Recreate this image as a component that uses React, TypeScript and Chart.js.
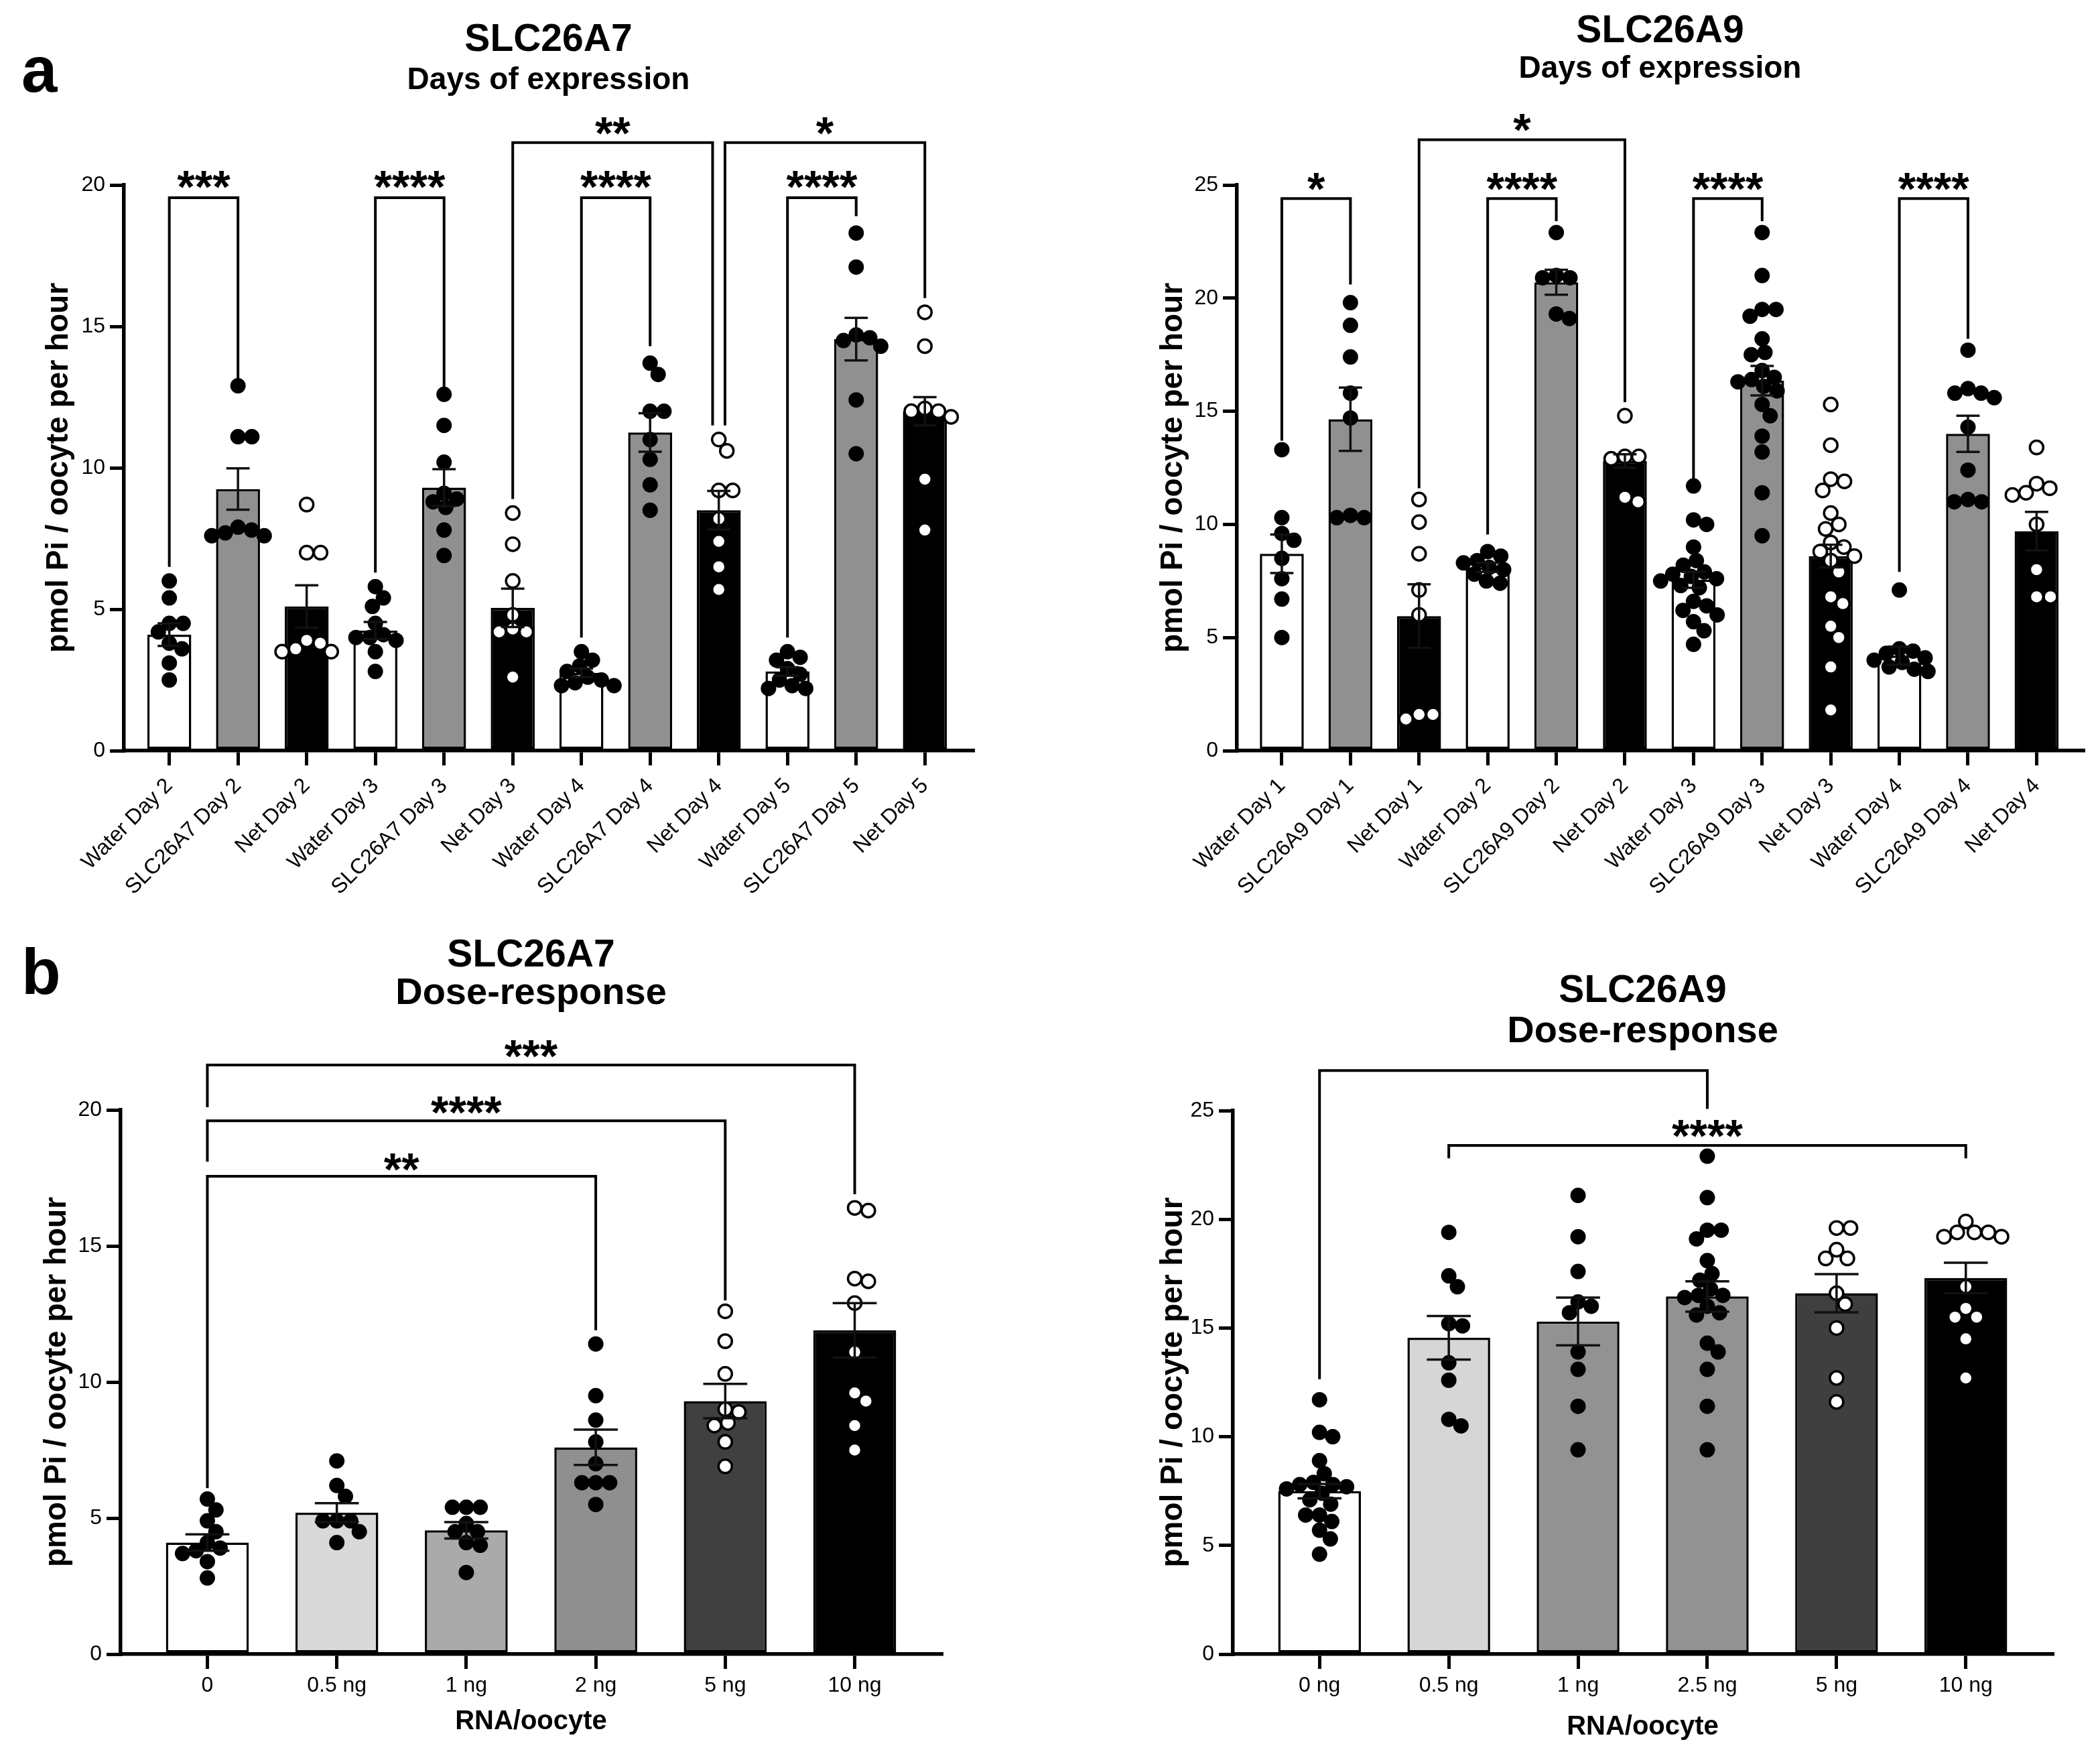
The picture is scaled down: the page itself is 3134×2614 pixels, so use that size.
import { useEffect, useRef } from 'react'
import { Chart, registerables } from 'chart.js'

Chart.register(...registerables)
Chart.defaults.font.family = "'Liberation Sans', Arial, Helvetica, sans-serif"
Chart.defaults.color = '#000'

// [from, to, top, left leg end, right leg end, label, label y, dx from, dx to]
type Bracket = [number, number, number, number, number, string, number, number, number]

// ---------- SLC26A7, days of expression ----------
const a7DayLabels = [
  'Water Day 2', 'SLC26A7 Day 2', 'Net Day 2',
  'Water Day 3', 'SLC26A7 Day 3', 'Net Day 3',
  'Water Day 4', 'SLC26A7 Day 4', 'Net Day 4',
  'Water Day 5', 'SLC26A7 Day 5', 'Net Day 5',
]
const a7DayMeans = [4.1, 9.25, 5.1, 4.25, 9.3, 5.05, 2.75, 11.25, 8.5, 2.8, 14.55, 12.0]
const a7DaySem = [0.4, 0.73, 0.75, 0.3, 0.65, 0.68, 0.15, 0.68, 0.68, 0.15, 0.75, 0.5]
const a7DayPoints = [
  [6.0, 5.4, 4.5, 4.5, 4.2, 3.8, 3.6, 3.1, 2.5],
  [12.9, 11.1, 11.1, 7.9, 7.8, 7.7, 7.6, 7.6],
  [8.7, 7.0, 7.0, 3.9, 3.8, 3.6, 3.5, 3.5],
  [5.8, 5.4, 5.1, 4.5, 4.1, 4.0, 4.0, 3.9, 3.5, 2.8],
  [12.6, 11.5, 10.2, 9.1, 8.9, 8.8, 8.6, 7.8, 6.9],
  [8.4, 7.3, 6.0, 4.8, 4.3, 4.2, 4.2, 2.6],
  [3.5, 3.2, 3.0, 2.8, 2.6, 2.5, 2.4, 2.3, 2.3],
  [13.7, 13.3, 12.0, 12.0, 11.0, 10.3, 9.4, 8.5],
  [11.0, 10.6, 9.2, 9.2, 8.2, 7.4, 6.5, 5.7],
  [3.5, 3.3, 3.2, 2.9, 2.7, 2.5, 2.3, 2.2, 2.2],
  [18.3, 17.1, 14.7, 14.6, 14.5, 14.3, 12.4, 10.5],
  [15.5, 14.3, 12.1, 12.0, 12.0, 11.8, 9.6, 7.8],
]
const a7DayBrackets: Bracket[] = [
  [0, 1, 19.55, 6.5, 13.05, '***', 20.3, 0, 0],
  [3, 4, 19.55, 6.3, 12.75, '****', 20.3, 0, 0],
  [6, 7, 19.55, 4.0, 14.3, '****', 20.3, 0, 0],
  [9, 10, 19.55, 4.0, 18.9, '****', 20.3, 0, 0],
  [5, 8, 21.5, 8.9, 11.5, '**', 22.2, 0, -0.09],
  [8, 11, 21.5, 11.5, 16.0, '*', 22.2, 0.09, 0],
]

// ---------- SLC26A9, days of expression ----------
const a9DayLabels = [
  'Water Day 1', 'SLC26A9 Day 1', 'Net Day 1',
  'Water Day 2', 'SLC26A9 Day 2', 'Net Day 2',
  'Water Day 3', 'SLC26A9 Day 3', 'Net Day 3',
  'Water Day 4', 'SLC26A9 Day 4', 'Net Day 4',
]
const a9DayMeans = [8.7, 14.65, 5.95, 8.1, 20.7, 12.8, 7.55, 16.35, 8.6, 4.2, 14.0, 9.7]
const a9DaySem = [0.85, 1.4, 1.4, 0.2, 0.55, 0.3, 0.35, 0.65, 0.5, 0.4, 0.8, 0.85]
const a9DayPoints = [
  [13.3, 10.3, 9.6, 9.3, 8.5, 7.6, 6.7, 5.0],
  [19.8, 18.8, 17.4, 15.8, 14.7, 10.4, 10.3, 10.3],
  [11.1, 10.1, 8.7, 7.1, 6.0, 1.6, 1.6, 1.4],
  [8.8, 8.6, 8.4, 8.3, 8.1, 8.0, 7.8, 7.5, 7.4],
  [22.9, 21.0, 20.9, 20.9, 19.3, 19.1],
  [14.8, 13.0, 13.0, 12.9, 11.2, 11.0],
  [11.7, 10.2, 10.0, 9.0, 8.4, 8.2, 7.9, 7.8, 7.7, 7.6, 7.5, 7.3, 7.2, 6.6, 6.4, 6.2, 6.0, 5.7, 5.3, 4.7],
  [22.9, 21.0, 19.5, 19.5, 19.2, 18.2, 17.6, 17.5, 16.8, 16.5, 16.4, 16.3, 16.1, 15.9, 15.3, 14.8, 13.9, 13.2, 11.4, 9.5],
  [15.3, 13.5, 12.0, 11.9, 11.5, 10.5, 10.0, 9.8, 9.2, 9.0, 8.8, 8.6, 8.4, 7.9, 6.8, 6.5, 5.5, 5.0, 3.7, 1.8],
  [7.1, 4.5, 4.4, 4.3, 4.1, 4.0, 3.9, 3.7, 3.6, 3.5],
  [17.7, 16.0, 15.8, 15.8, 15.6, 14.3, 12.4, 11.1, 11.0, 11.0],
  [13.4, 11.8, 11.6, 11.4, 11.3, 10.0, 8.0, 6.8, 6.8],
]
const a9DayBrackets: Bracket[] = [
  [0, 1, 24.4, 13.7, 20.6, '*', 25.3, 0, 0],
  [3, 4, 24.4, 9.55, 23.4, '****', 25.3, 0, 0],
  [6, 7, 24.4, 11.8, 23.4, '****', 25.3, 0, 0],
  [9, 10, 24.4, 7.9, 18.2, '****', 25.3, 0, 0],
  [2, 5, 27.0, 11.6, 15.4, '*', 27.9, 0, 0],
]

// ---------- SLC26A7, dose-response ----------
const a7DoseLabels = ['0', '0.5 ng', '1 ng', '2 ng', '5 ng', '10 ng']
const a7DoseMeans = [4.1, 5.2, 4.55, 7.6, 9.3, 11.9]
const a7DoseSem = [0.3, 0.35, 0.3, 0.65, 0.63, 1.0]
const a7DosePoints = [
  [5.7, 5.3, 4.9, 4.5, 4.1, 3.9, 3.8, 3.7, 3.4, 2.8],
  [7.1, 6.2, 5.8, 4.9, 4.9, 4.9, 4.5, 4.1],
  [5.4, 5.4, 5.4, 4.8, 4.5, 4.5, 4.1, 4.0, 3.0],
  [11.4, 9.5, 8.6, 7.8, 7.0, 6.3, 6.3, 6.3, 5.5],
  [12.6, 11.5, 10.3, 9.0, 8.9, 8.5, 8.4, 7.8, 6.9],
  [16.4, 16.3, 13.8, 13.7, 12.9, 11.1, 9.6, 9.3, 8.4, 7.5],
]
const a7DoseBrackets: Bracket[] = [
  [0, 5, 21.65, 20.1, 16.9, '***', 22.35, 0, 0],
  [0, 4, 19.6, 18.1, 13.0, '****', 20.3, 0, 0],
  [0, 3, 17.56, 6.1, 11.9, '**', 18.2, 0, 0],
]

// ---------- SLC26A9, dose-response ----------
const a9DoseLabels = ['0 ng', '0.5 ng', '1 ng', '2.5 ng', '5 ng', '10 ng']
const a9DoseMeans = [7.5, 14.55, 15.3, 16.45, 16.6, 17.3]
const a9DoseSem = [0.33, 1.0, 1.1, 0.7, 0.88, 0.7]
const a9DosePoints = [
  [11.7, 10.2, 10.0, 8.9, 8.3, 7.9, 7.8, 7.8, 7.7, 7.6, 7.4, 7.1, 6.9, 6.4, 6.4, 6.1, 5.7, 5.3, 4.6],
  [19.4, 17.4, 16.9, 15.2, 15.1, 13.4, 12.6, 10.8, 10.5],
  [21.1, 19.2, 17.6, 16.2, 16.0, 15.7, 13.9, 13.1, 11.4, 9.4],
  [22.9, 21.0, 19.5, 19.5, 19.1, 18.1, 17.5, 17.2, 16.8, 16.5, 16.5, 16.4, 16.0, 15.7, 15.6, 14.3, 13.9, 13.1, 11.4, 9.4],
  [19.6, 19.6, 18.6, 18.2, 18.2, 16.6, 16.1, 15.0, 12.7, 11.6],
  [19.9, 19.4, 19.4, 19.4, 19.2, 19.2, 16.9, 15.9, 15.5, 15.5, 14.5, 12.7],
]
const a9DoseBrackets: Bracket[] = [
  [0, 3, 26.84, 12.65, 25.08, '', 0, 0, 0],
  [1, 5, 23.4, 22.8, 22.8, '****', 24.3, 0, 0],
]

// bar fills
const dayFills = ['#ffffff', '#909090', '#000000']
const a7DoseFills = ['#ffffff', '#d9d9d9', '#aaaaaa', '#8f8f8f', '#404040', '#000000']
const a9DoseFills = ['#ffffff', '#d6d6d6', '#929292', '#929292', '#3f3f3f', '#000000']

const FONT = "'Liberation Sans', Arial, Helvetica, sans-serif"
const DOT = 11.5

// simple beeswarm: horizontal offsets (in category units); dots may overlap a little
function swarm(values: number[], pxY: number, pxX: number): number[] {
  const d = 1.8 * DOT
  const order = values.map((_, i) => i).sort((a, b) => values[b] - values[a])
  const placed: { x: number; y: number }[] = []
  const out = values.map(() => 0)
  for (const i of order) {
    const y = values[i] * pxY
    const cands = [0]
    for (const p of placed) {
      const dy = Math.abs(p.y - y)
      if (dy < d) {
        const dx = Math.sqrt(d * d - dy * dy)
        cands.push(p.x + dx, p.x - dx)
      }
    }
    cands.sort((a, b) => Math.abs(a) - Math.abs(b))
    let x = 0
    for (const c of cands) {
      if (placed.every(p => (p.x - c) ** 2 + (p.y - y) ** 2 >= d * d - 0.5)) {
        x = c
        break
      }
    }
    placed.push({ x, y })
    out[i] = x / pxX
  }
  return out
}

interface PanelProps {
  left: number
  top: number
  width: number
  height: number
  area: { l: number; r: number; t: number; b: number }
  xMin: number
  xMax: number
  yMax: number
  padTop: number
  title: string
  subtitle: string
  titleSize: number
  subSize: number
  subPadTop: number
  subPadBottom: number
  yTitlePad: number
  rotate: boolean
  xTitle?: string
  xTitlePad?: number
  labels: string[]
  means: number[]
  sems: number[]
  points: number[][]
  fills: string[]
  hollow: boolean[]
  brackets: Bracket[]
}

function Panel(p: PanelProps) {
  const chartRef = useRef<HTMLCanvasElement>(null)

  useEffect(() => {
    if (!chartRef.current) return
    const ctx = chartRef.current.getContext('2d')
    if (!ctx) return

    const { area } = p
    const pxY = (area.b - area.t) / p.yMax
    const pxX = (area.r - area.l) / (p.xMax - p.xMin)
    const starSize = 68

    // error bars (mean ± SEM) and significance brackets
    const stats = {
      id: 'stats',
      afterDatasetsDraw(c: any) {
        const g = c.ctx as CanvasRenderingContext2D
        const xs = c.scales.x
        const ys = c.scales.y
        g.save()
        g.strokeStyle = '#111'
        g.lineWidth = 3.5
        const cap = 0.17 * pxX
        p.means.forEach((m, i) => {
          const x = xs.getPixelForValue(i)
          const hi = ys.getPixelForValue(m + p.sems[i])
          const lo = ys.getPixelForValue(m - p.sems[i])
          g.beginPath()
          g.moveTo(x, hi)
          g.lineTo(x, lo)
          g.moveTo(x - cap, hi)
          g.lineTo(x + cap, hi)
          g.moveTo(x - cap, lo)
          g.lineTo(x + cap, lo)
          g.stroke()
        })
        g.strokeStyle = '#000'
        g.lineWidth = 4
        g.lineJoin = 'miter'
        g.font = `bold ${starSize}px ${FONT}`
        g.textAlign = 'center'
        g.textBaseline = 'alphabetic'
        g.fillStyle = '#000'
        p.brackets.forEach(([from, to, topV, yl, yr, label, ly, dl, dr]) => {
          const x1 = xs.getPixelForValue(from + dl)
          const x2 = xs.getPixelForValue(to + dr)
          const yt = ys.getPixelForValue(topV)
          g.beginPath()
          g.moveTo(x1, ys.getPixelForValue(yl))
          g.lineTo(x1, yt)
          g.lineTo(x2, yt)
          g.lineTo(x2, ys.getPixelForValue(yr))
          g.stroke()
          if (label) g.fillText(label, (x1 + x2) / 2, ys.getPixelForValue(ly) + 0.57 * starSize)
        })
        g.restore()
      },
    }

    const dotSets = p.points.map((vals, i) => {
      const offs = swarm(vals, pxY, pxX)
      return {
        type: 'scatter' as const,
        data: vals.map((v, k) => ({ x: i + offs[k], y: v })),
        pointRadius: p.hollow[i] ? 10 : DOT,
        pointHoverRadius: p.hollow[i] ? 10 : DOT,
        pointBackgroundColor: p.hollow[i] ? '#ffffff' : '#000000',
        pointBorderColor: '#000000',
        pointBorderWidth: p.hollow[i] ? 3.5 : 0,
        order: 0,
      }
    })

    const chart = new Chart(ctx, {
      type: 'bar',
      data: {
        datasets: [
          {
            type: 'bar',
            data: p.means.map((m, i) => ({ x: i, y: m })),
            backgroundColor: p.fills,
            borderColor: '#000',
            borderWidth: 3.5,
            borderSkipped: false,
            barPercentage: 0.64,
            categoryPercentage: 1,
            order: 1,
          },
          ...dotSets,
        ] as any,
      },
      options: {
        animation: false,
        responsive: false,
        events: [],
        layout: {
          padding: { top: p.padTop, left: 0, right: p.width - area.r, bottom: 0 },
        },
        plugins: {
          legend: { display: false },
          tooltip: { enabled: false },
          title: {
            display: true,
            text: p.title,
            fullSize: false,
            color: '#000',
            font: { size: p.titleSize, weight: 'bold', lineHeight: 1 },
            padding: 0,
          },
          subtitle: {
            display: true,
            text: p.subtitle,
            fullSize: false,
            color: '#000',
            font: { size: p.subSize, weight: 'bold', lineHeight: 1 },
            padding: { top: p.subPadTop, bottom: p.subPadBottom },
          },
        },
        scales: {
          x: {
            type: 'linear',
            min: p.xMin,
            max: p.xMax,
            offset: false,
            afterBuildTicks: (s: any) => {
              s.ticks = p.labels.map((_, i) => ({ value: i }))
            },
            afterFit: (s: any) => {
              s.height = p.height - area.b
            },
            grid: {
              display: true,
              offset: false,
              drawOnChartArea: false,
              drawTicks: true,
              tickLength: 22,
              tickWidth: 5,
              tickColor: '#000',
              lineWidth: 5,
              color: '#000',
            },
            border: { display: true, color: '#000', width: 5.5 },
            ticks: {
              autoSkip: false,
              maxRotation: p.rotate ? 45 : 0,
              minRotation: p.rotate ? 45 : 0,
              padding: p.rotate ? 14 : 9,
              color: '#000',
              font: { size: 32, lineHeight: 1 },
              callback: (v: any) => p.labels[Math.round(Number(v))] ?? '',
            },
            title: {
              display: !!p.xTitle,
              text: p.xTitle ?? '',
              color: '#000',
              font: { size: 40, weight: 'bold', lineHeight: 1 },
              padding: { top: 0, bottom: p.xTitlePad ?? 0 },
            },
          },
          y: {
            type: 'linear',
            min: 0,
            max: p.yMax,
            afterFit: (s: any) => {
              s.width = area.l
            },
            grid: {
              display: true,
              drawOnChartArea: false,
              drawTicks: true,
              tickLength: 21,
              tickWidth: 5,
              tickColor: '#000',
              lineWidth: 5,
              color: '#000',
            },
            border: { display: true, color: '#000', width: 5.5 },
            ticks: {
              stepSize: 5,
              padding: 7,
              color: '#000',
              font: { size: 32, lineHeight: 1 },
            },
            title: {
              display: true,
              text: 'pmol Pi / oocyte per hour',
              color: '#000',
              font: { size: 46, weight: 'bold', lineHeight: 1 },
              padding: { top: p.yTitlePad, bottom: 0 },
            },
          },
        },
      } as any,
      plugins: [stats],
    })

    return () => {
      chart.destroy()
    }
  }, [])

  return (
    <canvas
      ref={chartRef}
      width={p.width}
      height={p.height}
      style={{ position: 'absolute', left: p.left, top: p.top, width: p.width, height: p.height }}
    />
  )
}

const letterStyle = (left: number, top: number): any => ({
  position: 'absolute',
  left,
  top,
  fontFamily: FONT,
  fontWeight: 'bold',
  fontSize: 96,
  lineHeight: 1,
  color: '#000',
})

export default function App() {
  return (
    <div style={{ position: 'absolute', left: 0, top: 0, width: 3134, height: 2614, background: '#fff', overflow: 'hidden' }}>
      <Panel
        left={0} top={0} width={1560} height={1340}
        area={{ l: 185, r: 1452, t: 276, b: 1120 }}
        xMin={-0.66} xMax={11.7} yMax={20}
        padTop={32} title="SLC26A7" subtitle="Days of expression"
        titleSize={57} subSize={46} subPadTop={8} subPadBottom={133}
        yTitlePad={65} rotate
        labels={a7DayLabels} means={a7DayMeans} sems={a7DaySem} points={a7DayPoints}
        fills={a7DayLabels.map((_, i) => dayFills[i % 3])}
        hollow={a7DayLabels.map(l => l.startsWith('Net'))}
        brackets={a7DayBrackets}
      />
      <Panel
        left={1560} top={0} width={1574} height={1340}
        area={{ l: 286, r: 1549, t: 276, b: 1120 }}
        xMin={-0.654} xMax={11.68} yMax={25}
        padTop={19} title="SLC26A9" subtitle="Days of expression"
        titleSize={57} subSize={46} subPadTop={4} subPadBottom={150}
        yTitlePad={168} rotate
        labels={a9DayLabels} means={a9DayMeans} sems={a9DaySem} points={a9DayPoints}
        fills={a9DayLabels.map((_, i) => dayFills[i % 3])}
        hollow={a9DayLabels.map(l => l.startsWith('Net'))}
        brackets={a9DayBrackets}
      />
      <Panel
        left={0} top={1340} width={1560} height={1274}
        area={{ l: 180, r: 1405, t: 316, b: 1128 }}
        xMin={-0.67} xMax={5.67} yMax={20}
        padTop={58} title="SLC26A7" subtitle="Dose-response"
        titleSize={57} subSize={56} subPadTop={0} subPadBottom={145}
        yTitlePad={62} rotate={false} xTitle="RNA/oocyte" xTitlePad={25}
        labels={a7DoseLabels} means={a7DoseMeans} sems={a7DoseSem} points={a7DosePoints}
        fills={a7DoseFills}
        hollow={a7DoseLabels.map((_, i) => i >= 4)}
        brackets={a7DoseBrackets}
      />
      <Panel
        left={1560} top={1340} width={1574} height={1274}
        area={{ l: 280, r: 1503, t: 317, b: 1128 }}
        xMin={-0.67} xMax={5.67} yMax={25}
        padTop={111} title="SLC26A9" subtitle="Dose-response"
        titleSize={57} subSize={56} subPadTop={4} subPadBottom={89}
        yTitlePad={168} rotate={false} xTitle="RNA/oocyte" xTitlePad={17}
        labels={a9DoseLabels} means={a9DoseMeans} sems={a9DoseSem} points={a9DosePoints}
        fills={a9DoseFills}
        hollow={a9DoseLabels.map((_, i) => i >= 4)}
        brackets={a9DoseBrackets}
      />
      <div style={letterStyle(32, 56)}>a</div>
      <div style={letterStyle(32, 1402)}>b</div>
    </div>
  )
}
